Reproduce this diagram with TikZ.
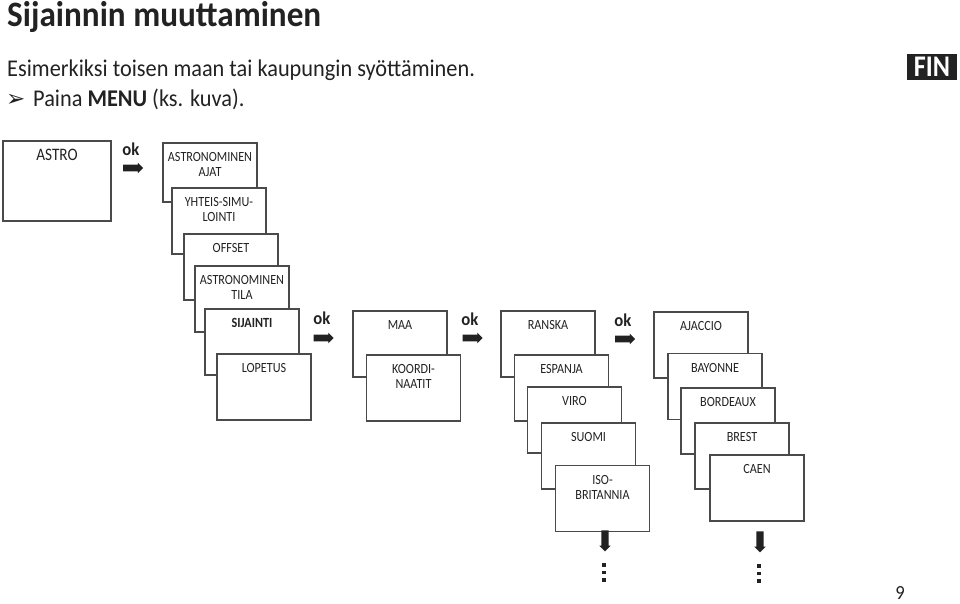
\documentclass[tikz,border=0pt]{standalone}
\usepackage{fontspec}
\setmainfont{Carlito}[FakeStretch=0.93]
\newfontfamily\boxfont{Carlito}[FakeStretch=0.87]
\newfontfamily\symbolfont{DejaVu Sans}
\usetikzlibrary{shapes.arrows, positioning}
\definecolor{mink}{HTML}{222222}
\definecolor{mline}{HTML}{4A4A4A}
\tikzstyle{menubox} = [rectangle, draw = mline, line width = 1.1pt, fill = white, text = mink, inner sep = 0pt, outer sep = 0pt, text width = 94pt, text height = 18.5pt, text depth = 47.5pt, align = center, font = \boxfont\fontsize{14}{15}\selectfont]
\tikzstyle{oktext} = [text = mink, inner sep = 0pt, font = \bfseries\fontsize{18}{18}\selectfont]
\tikzstyle{okarrow} = [single arrow, fill = mink, inner sep = 0pt, text height = 6.5pt, minimum width = 10.5pt, minimum height = 20pt, single arrow head extend = 2pt, single arrow head indent = 0pt, shape border rotate = 0]
\tikzstyle{downarrow} = [single arrow, fill = mink, inner sep = 0pt, text width = 7pt, minimum width = 11pt, minimum height = 21pt, single arrow head extend = 2pt, single arrow head indent = 0pt, shape border rotate = 270]
\tikzstyle{bodytext} = [anchor = base west, text = mink, inner sep = 0pt, font = \fontsize{24}{24}\selectfont]
\tikzstyle{dot} = [rectangle, fill = mink, inner sep = 0pt, minimum size = 3.6pt]

\begin{document}
\begin{tikzpicture}[x=1pt, y=1pt]
  \useasboundingbox (0,0) rectangle (960,-603);
  \node (title) [bodytext, font = \bfseries\fontsize{35.7}{36}\selectfont] at (7,-26) {Sijainnin muuttaminen};
  \node (intro) [bodytext] at (7,-76) {Esimerkiksi toisen maan tai kaupungin syöttäminen.};
  \node (pointer) [bodytext, font = \symbolfont\fontsize{23}{23}\selectfont] at (6,-106) {➢};
  \node (press) [bodytext] at (33,-106) {Paina \textbf{MENU} (ks. kuva).};
  \node (fin) [fill = mink, text = white, inner sep = 0pt, minimum width = 50pt, minimum height = 26pt, font = \boxfont\bfseries\fontsize{30}{30}\selectfont] at (932,-67) {FIN};
  \node (page) [text = mink, inner sep = 0pt, font = \fontsize{20}{20}\selectfont] at (900,-593) {9};

  \node (astro) [menubox, anchor = north west, text width = 108pt, text height = 19pt, text depth = 61pt, font = \boxfont\fontsize{17.5}{17.5}\selectfont] at (3,-141) {ASTRO};
  \node (ok1) [oktext] at (131,-149) {ok};
  \node (arrow1) [okarrow] at (131.5,-168) {};

  \node (ajat) [menubox, anchor = north west, text depth = 40.5pt] at (163,-143) {ASTRONOMINEN\\AJAT};
  \node (yhteis) [menubox, below right = -14pt and -85pt of ajat] {YHTEIS-SIMU-\\LOINTI};
  \node (offset) [menubox, below right = -20pt and -82pt of yhteis] {OFFSET};
  \node (tila) [menubox, below right = -34pt and -83pt of offset] {ASTRONOMINEN\\TILA};
  \node (sijainti) [menubox, below right = -23pt and -84pt of tila] {\textbf{SIJAINTI}};
  \node (lopetus) [menubox, below right = -21pt and -82pt of sijainti] {LOPETUS};

  \node (maa) [menubox, right = 54pt of sijainti, yshift = -2pt] {MAA};
  \node (koordi) [menubox, below right = -22pt and -80.5pt of maa] {KOORDI-\\NAATIT};
  \node (ok2) [oktext] at (322,-318) {ok};
  \node (arrow2) [okarrow] at (322,-338) {};

  \node (ranska) [menubox, right = 54pt of maa] {RANSKA};
  \node (espanja) [menubox, below right = -22pt and -80.5pt of ranska] {ESPANJA};
  \node (viro) [menubox, below right = -34pt and -81pt of espanja] {VIRO};
  \node (suomi) [menubox, below right = -30pt and -80pt of viro] {SUOMI};
  \node (iso) [menubox, below right = -23.5pt and -80pt of suomi] {ISO-\\BRITANNIA};
  \node (ok3) [oktext] at (470,-319) {ok};
  \node (arrow3) [okarrow] at (471,-338) {};

  \node (ajaccio) [menubox, right = 59pt of ranska, yshift = -1pt] {AJACCIO};
  \node (bayonne) [menubox, below right = -24.5pt and -80pt of ajaccio] {BAYONNE};
  \node (bordeaux) [menubox, below right = -31.5pt and -81pt of bayonne] {BORDEAUX};
  \node (brest) [menubox, below right = -31pt and -80pt of bordeaux] {BREST};
  \node (caen) [menubox, below right = -34pt and -79pt of brest] {CAEN};
  \node (ok4) [oktext] at (623,-320) {ok};
  \node (arrow4) [okarrow] at (623.5,-339) {};

  \node (down1) [downarrow] at (605,-539) {};
  \node (down2) [downarrow] at (760,-540) {};
  \foreach \n/\y in {1/565,2/572.5,3/580}
    \node (dotl\n) [dot] at (604,-\y) {};
  \foreach \n/\y in {1/566,2/573.5,3/581}
    \node (dotr\n) [dot] at (759,-\y) {};
\end{tikzpicture}
\end{document}
